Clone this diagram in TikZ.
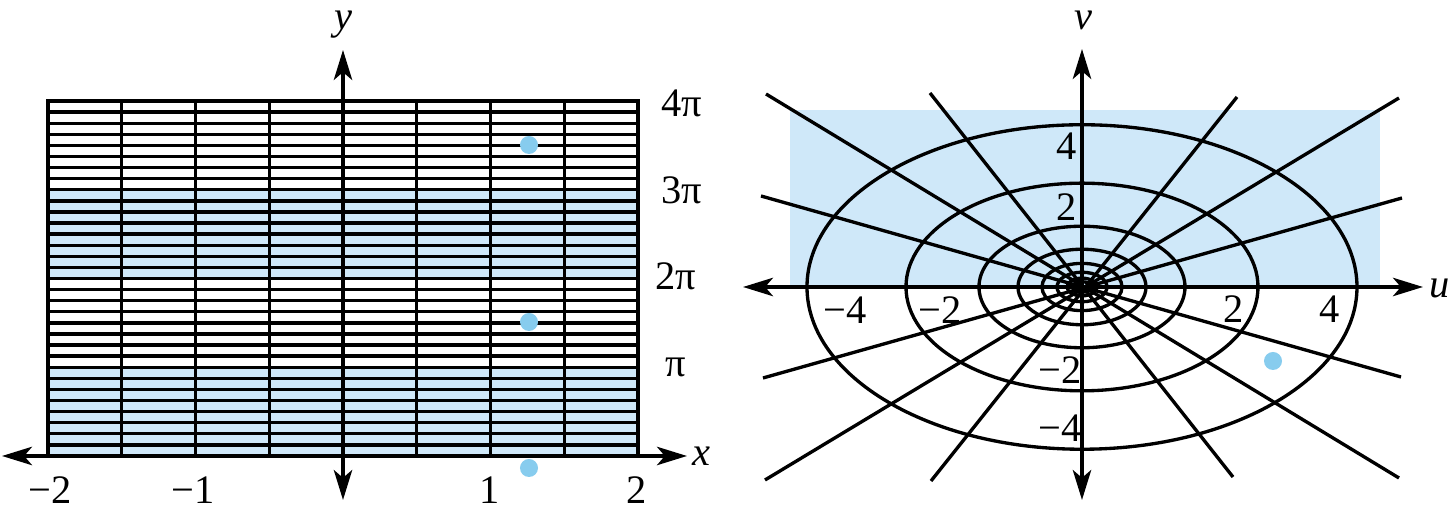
\documentclass[tikz,border=0pt]{standalone}
\usepackage{fontspec}
\setmainfont{Liberation Serif}
\newfontfamily\labelfont{Liberation Serif}
\usepackage{tikz}
\usetikzlibrary{arrows.meta}
\definecolor{stripblue}{RGB}{207,232,249}
\definecolor{dotblue}{RGB}{135,204,238}

\begin{document}
\begin{tikzpicture}[x=0.01cm,y=-0.01cm,
    grid/.style={line width=0.95pt},
    axis/.style={line width=1.1pt,{Stealth[length=8.5pt,width=5.2pt,inset=2.2pt]}-{Stealth[length=8.5pt,width=5.2pt,inset=2.2pt]}},
    lbl/.style={font=\labelfont\fontsize{11.5}{13}\selectfont,inner sep=0pt},
    dot/.style={circle,fill=dotblue,inner sep=0pt,minimum size=0.18cm}]
\useasboundingbox (0,0) rectangle (1450,513);
%\tikzstyle{strip}=[fill=stripblue]
% left: the strip
\fill[stripblue] (48,456) rectangle (638,367.25);
\fill[stripblue] (48,278.5) rectangle (638,189.75);
\foreach \k in {1,...,31}
    \draw[grid] (48,{456-\k*355/32}) -- (638,{456-\k*355/32});
\foreach \k in {1,...,7}
    \draw[grid] ({48+\k*73.75},101) -- ({48+\k*73.75},456);
\draw[line width=1.1pt] (48,101) rectangle (638,456);

\node[dot] (p1) at (529,145) {};
\node[dot] (p2) at (529,322) {};
\node[dot] (p3) at (529,468) {};

\coordinate (xl) at (2,456);
\coordinate (xr) at (687,456);
\coordinate (yb) at (343,500);
\coordinate (yt) at (343,50);
\draw[axis] (xl) -- (xr);
\draw[axis] (yb) -- (yt);

\begin{scope}[every node/.style={lbl}]
    \node (x) at (701,456) {\textit{x}};
    \node (y) at (343,25) {\textit{y}};
    \node (xm2) at (50,490) {−2};
    \node (xm1) at (193,490) {−1};
    \node (x1) at (490,490) {1};
    \node (x2) at (637,490) {2};
    \node (y4) at (682,103) {4π};
    \node (y3) at (682,190) {3π};
    \node (y2) at (676,276) {2π};
    \node (y1) at (676,367) {π};
\end{scope}

% right: the image
\fill[stripblue] (790,110) rectangle (1380,287);
\coordinate (o) at (1082,287);
\foreach \a in {275,176,103,64,40,25,15,9}
    \draw[grid] (o) ellipse ({\a} and {0.59*\a});
\coordinate (r1a) at (766,94);   \coordinate (r1b) at (1399,478);
\coordinate (r2a) at (930,93);   \coordinate (r2b) at (1233,477);
\coordinate (r3a) at (761,196);  \coordinate (r3b) at (1401,377);
\coordinate (r4a) at (1237,97);  \coordinate (r4b) at (931,481);
\coordinate (r5a) at (1399,98);  \coordinate (r5b) at (765,480);
\coordinate (r6a) at (1402,198); \coordinate (r6b) at (763,378);
\foreach \r in {1,...,6}
    \draw[grid] (r\r a) -- (r\r b);

\node[dot] (q1) at (1273,361) {};

\coordinate (ul) at (743,287);
\coordinate (ur) at (1423,287);
\coordinate (vb) at (1082,500);
\coordinate (vt) at (1082,49);
\draw[axis] (ul) -- (ur);
\draw[axis] (vb) -- (vt);

\begin{scope}[every node/.style={lbl}]
    \node (u) at (1440,288) {\textit{u}};
    \node (v) at (1083,20) {\textit{v}};
    \node (um4) at (845,310) {−4};
    \node (um2) at (940,310) {−2};
    \node (u2) at (1234,309) {2};
    \node (u4) at (1330,309) {4};
    \node (v4) at (1067,146) {4};
    \node (v2) at (1067,207) {2};
    \node (vm2) at (1060,370) {−2};
    \node (vm4) at (1060,428) {−4};
\end{scope}
\end{tikzpicture}
\end{document}
